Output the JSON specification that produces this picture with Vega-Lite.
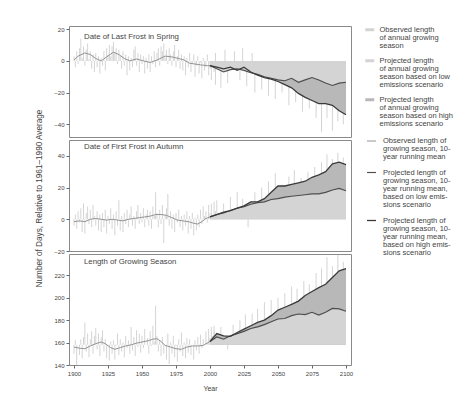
{
"$schema":"https://vega.github.io/schema/vega-lite/v6.json",
"padding":{"left":34,"top":25,"right":2,"bottom":2},
"background":"white",
"config":{
 "font":"Liberation Sans",
 "view":{"stroke":"#8a8a8a","strokeWidth":1},
 "axis":{"labelFontSize":6,"titleFontSize":7,"labelColor":"#444","titleColor":"#444","tickColor":"#666","tickSize":3,"labelPadding":2,"labelFlush":false,"domain":false,"grid":false,"labelFont":"Liberation Sans","titleFont":"Liberation Sans","titleFontWeight":"normal"},
 "legend":{"labelFont":"Liberation Sans","labelFontSize":7.5,"labelColor":"#444","rowPadding":6,"offset":12,"labelOffset":6},
 "title":{"anchor":"start","frame":"group","dx":15,"fontSize":7.8,"fontWeight":"normal","color":"#444","font":"Liberation Sans"}
},
"datasets":{
"ann":[
{"p":1,"yr":1900,"v":3},{"p":1,"yr":1901,"v":-4},{"p":1,"yr":1902,"v":6},{"p":1,"yr":1903,"v":-2},{"p":1,"yr":1904,"v":8},{"p":1,"yr":1905,"v":14},{"p":1,"yr":1906,"v":2},{"p":1,"yr":1907,"v":9},{"p":1,"yr":1908,"v":-3},{"p":1,"yr":1909,"v":7},
{"p":1,"yr":1910,"v":11},{"p":1,"yr":1911,"v":1},{"p":1,"yr":1912,"v":6},{"p":1,"yr":1913,"v":-5},{"p":1,"yr":1914,"v":4},{"p":1,"yr":1915,"v":-7},{"p":1,"yr":1916,"v":5},{"p":1,"yr":1917,"v":-4},{"p":1,"yr":1918,"v":3},{"p":1,"yr":1919,"v":-8},
{"p":1,"yr":1920,"v":2},{"p":1,"yr":1921,"v":-3},{"p":1,"yr":1922,"v":6},{"p":1,"yr":1923,"v":-6},{"p":1,"yr":1924,"v":8},{"p":1,"yr":1925,"v":4},{"p":1,"yr":1926,"v":10},{"p":1,"yr":1927,"v":3},{"p":1,"yr":1928,"v":9},{"p":1,"yr":1929,"v":12},
{"p":1,"yr":1930,"v":5},{"p":1,"yr":1931,"v":8},{"p":1,"yr":1932,"v":-2},{"p":1,"yr":1933,"v":7},{"p":1,"yr":1934,"v":3},{"p":1,"yr":1935,"v":-5},{"p":1,"yr":1936,"v":6},{"p":1,"yr":1937,"v":-3},{"p":1,"yr":1938,"v":4},{"p":1,"yr":1939,"v":-9},
{"p":1,"yr":1940,"v":3},{"p":1,"yr":1941,"v":-6},{"p":1,"yr":1942,"v":2},{"p":1,"yr":1943,"v":-4},{"p":1,"yr":1944,"v":7},{"p":1,"yr":1945,"v":9},{"p":1,"yr":1946,"v":-3},{"p":1,"yr":1947,"v":5},{"p":1,"yr":1948,"v":-7},{"p":1,"yr":1949,"v":4},
{"p":1,"yr":1950,"v":-2},{"p":1,"yr":1951,"v":3},{"p":1,"yr":1952,"v":-8},{"p":1,"yr":1953,"v":2},{"p":1,"yr":1954,"v":-5},{"p":1,"yr":1955,"v":4},{"p":1,"yr":1956,"v":-7},{"p":1,"yr":1957,"v":3},{"p":1,"yr":1958,"v":-2},{"p":1,"yr":1959,"v":6},
{"p":1,"yr":1960,"v":-4},{"p":1,"yr":1961,"v":5},{"p":1,"yr":1962,"v":8},{"p":1,"yr":1963,"v":-3},{"p":1,"yr":1964,"v":9},{"p":1,"yr":1965,"v":6},{"p":1,"yr":1966,"v":11},{"p":1,"yr":1967,"v":2},{"p":1,"yr":1968,"v":7},{"p":1,"yr":1969,"v":-2},
{"p":1,"yr":1970,"v":8},{"p":1,"yr":1971,"v":4},{"p":1,"yr":1972,"v":-3},{"p":1,"yr":1973,"v":6},{"p":1,"yr":1974,"v":10},{"p":1,"yr":1975,"v":-4},{"p":1,"yr":1976,"v":3},{"p":1,"yr":1977,"v":7},{"p":1,"yr":1978,"v":-5},{"p":1,"yr":1979,"v":4},
{"p":1,"yr":1980,"v":-6},{"p":1,"yr":1981,"v":3},{"p":1,"yr":1982,"v":-9},{"p":1,"yr":1983,"v":2},{"p":1,"yr":1984,"v":-4},{"p":1,"yr":1985,"v":5},{"p":1,"yr":1986,"v":-7},{"p":1,"yr":1987,"v":-2},{"p":1,"yr":1988,"v":4},{"p":1,"yr":1989,"v":-10},
{"p":1,"yr":1990,"v":-3},{"p":1,"yr":1991,"v":3},{"p":1,"yr":1992,"v":-8},{"p":1,"yr":1993,"v":-1},{"p":1,"yr":1994,"v":-11},{"p":1,"yr":1995,"v":2},{"p":1,"yr":1996,"v":-6},{"p":1,"yr":1997,"v":-4},{"p":1,"yr":1998,"v":4},{"p":1,"yr":1999,"v":-9},
{"p":1,"yr":2000,"v":-5},{"p":1,"yr":2001,"v":-12},{"p":1,"yr":2002,"v":0},{"p":1,"yr":2003,"v":-7},{"p":1,"yr":2004,"v":-15},
{"p":2,"yr":1900,"v":-4},{"p":2,"yr":1901,"v":3},{"p":2,"yr":1902,"v":-6},{"p":2,"yr":1903,"v":5},{"p":2,"yr":1904,"v":-2},{"p":2,"yr":1905,"v":7},{"p":2,"yr":1906,"v":-8},{"p":2,"yr":1907,"v":10},{"p":2,"yr":1908,"v":-9},{"p":2,"yr":1909,"v":4},
{"p":2,"yr":1910,"v":8},{"p":2,"yr":1911,"v":-3},{"p":2,"yr":1912,"v":6},{"p":2,"yr":1913,"v":-5},{"p":2,"yr":1914,"v":9},{"p":2,"yr":1915,"v":2},{"p":2,"yr":1916,"v":-4},{"p":2,"yr":1917,"v":5},{"p":2,"yr":1918,"v":-7},{"p":2,"yr":1919,"v":3},
{"p":2,"yr":1920,"v":-8},{"p":2,"yr":1921,"v":4},{"p":2,"yr":1922,"v":-5},{"p":2,"yr":1923,"v":6},{"p":2,"yr":1924,"v":-9},{"p":2,"yr":1925,"v":2},{"p":2,"yr":1926,"v":-3},{"p":2,"yr":1927,"v":7},{"p":2,"yr":1928,"v":-6},{"p":2,"yr":1929,"v":3},
{"p":2,"yr":1930,"v":-10},{"p":2,"yr":1931,"v":5},{"p":2,"yr":1932,"v":-4},{"p":2,"yr":1933,"v":12},{"p":2,"yr":1934,"v":-7},{"p":2,"yr":1935,"v":2},{"p":2,"yr":1936,"v":-8},{"p":2,"yr":1937,"v":4},{"p":2,"yr":1938,"v":-3},{"p":2,"yr":1939,"v":6},
{"p":2,"yr":1940,"v":-5},{"p":2,"yr":1941,"v":3},{"p":2,"yr":1942,"v":8},{"p":2,"yr":1943,"v":-4},{"p":2,"yr":1944,"v":2},{"p":2,"yr":1945,"v":-6},{"p":2,"yr":1946,"v":5},{"p":2,"yr":1947,"v":9},{"p":2,"yr":1948,"v":-3},{"p":2,"yr":1949,"v":4},
{"p":2,"yr":1950,"v":-2},{"p":2,"yr":1951,"v":7},{"p":2,"yr":1952,"v":-5},{"p":2,"yr":1953,"v":3},{"p":2,"yr":1954,"v":6},{"p":2,"yr":1955,"v":-4},{"p":2,"yr":1956,"v":5},{"p":2,"yr":1957,"v":-6},{"p":2,"yr":1958,"v":8},{"p":2,"yr":1959,"v":2},
{"p":2,"yr":1960,"v":17},{"p":2,"yr":1961,"v":4},{"p":2,"yr":1962,"v":-5},{"p":2,"yr":1963,"v":6},{"p":2,"yr":1964,"v":-3},{"p":2,"yr":1965,"v":9},{"p":2,"yr":1966,"v":-15},{"p":2,"yr":1967,"v":3},{"p":2,"yr":1968,"v":7},{"p":2,"yr":1969,"v":16},
{"p":2,"yr":1970,"v":-4},{"p":2,"yr":1971,"v":5},{"p":2,"yr":1972,"v":-6},{"p":2,"yr":1973,"v":3},{"p":2,"yr":1974,"v":-8},{"p":2,"yr":1975,"v":4},{"p":2,"yr":1976,"v":-2},{"p":2,"yr":1977,"v":6},{"p":2,"yr":1978,"v":-5},{"p":2,"yr":1979,"v":2},
{"p":2,"yr":1980,"v":-7},{"p":2,"yr":1981,"v":3},{"p":2,"yr":1982,"v":-4},{"p":2,"yr":1983,"v":5},{"p":2,"yr":1984,"v":-9},{"p":2,"yr":1985,"v":2},{"p":2,"yr":1986,"v":-6},{"p":2,"yr":1987,"v":4},{"p":2,"yr":1988,"v":-10},{"p":2,"yr":1989,"v":1},
{"p":2,"yr":1990,"v":-7},{"p":2,"yr":1991,"v":3},{"p":2,"yr":1992,"v":-5},{"p":2,"yr":1993,"v":6},{"p":2,"yr":1994,"v":-3},{"p":2,"yr":1995,"v":8},{"p":2,"yr":1996,"v":2},{"p":2,"yr":1997,"v":5},{"p":2,"yr":1998,"v":-2},{"p":2,"yr":1999,"v":9},
{"p":2,"yr":2000,"v":4},{"p":2,"yr":2001,"v":10},{"p":2,"yr":2002,"v":3},{"p":2,"yr":2003,"v":11},{"p":2,"yr":2004,"v":5},
{"p":3,"yr":1900,"v":150},{"p":3,"yr":1901,"v":162},{"p":3,"yr":1902,"v":140},{"p":3,"yr":1903,"v":158},{"p":3,"yr":1904,"v":149},{"p":3,"yr":1905,"v":163},{"p":3,"yr":1906,"v":146},{"p":3,"yr":1907,"v":165},{"p":3,"yr":1908,"v":178},{"p":3,"yr":1909,"v":152},
{"p":3,"yr":1910,"v":168},{"p":3,"yr":1911,"v":147},{"p":3,"yr":1912,"v":163},{"p":3,"yr":1913,"v":170},{"p":3,"yr":1914,"v":150},{"p":3,"yr":1915,"v":166},{"p":3,"yr":1916,"v":173},{"p":3,"yr":1917,"v":154},{"p":3,"yr":1918,"v":168},{"p":3,"yr":1919,"v":148},
{"p":3,"yr":1920,"v":165},{"p":3,"yr":1921,"v":171},{"p":3,"yr":1922,"v":152},{"p":3,"yr":1923,"v":163},{"p":3,"yr":1924,"v":146},{"p":3,"yr":1925,"v":158},{"p":3,"yr":1926,"v":144},{"p":3,"yr":1927,"v":161},{"p":3,"yr":1928,"v":150},{"p":3,"yr":1929,"v":162},
{"p":3,"yr":1930,"v":145},{"p":3,"yr":1931,"v":157},{"p":3,"yr":1932,"v":168},{"p":3,"yr":1933,"v":149},{"p":3,"yr":1934,"v":163},{"p":3,"yr":1935,"v":152},{"p":3,"yr":1936,"v":160},{"p":3,"yr":1937,"v":147},{"p":3,"yr":1938,"v":166},{"p":3,"yr":1939,"v":155},
{"p":3,"yr":1940,"v":162},{"p":3,"yr":1941,"v":150},{"p":3,"yr":1942,"v":174},{"p":3,"yr":1943,"v":153},{"p":3,"yr":1944,"v":165},{"p":3,"yr":1945,"v":148},{"p":3,"yr":1946,"v":171},{"p":3,"yr":1947,"v":156},{"p":3,"yr":1948,"v":168},{"p":3,"yr":1949,"v":151},
{"p":3,"yr":1950,"v":166},{"p":3,"yr":1951,"v":155},{"p":3,"yr":1952,"v":172},{"p":3,"yr":1953,"v":158},{"p":3,"yr":1954,"v":164},{"p":3,"yr":1955,"v":150},{"p":3,"yr":1956,"v":170},{"p":3,"yr":1957,"v":157},{"p":3,"yr":1958,"v":175},{"p":3,"yr":1959,"v":161},
{"p":3,"yr":1960,"v":193},{"p":3,"yr":1961,"v":166},{"p":3,"yr":1962,"v":152},{"p":3,"yr":1963,"v":162},{"p":3,"yr":1964,"v":148},{"p":3,"yr":1965,"v":165},{"p":3,"yr":1966,"v":150},{"p":3,"yr":1967,"v":158},{"p":3,"yr":1968,"v":145},{"p":3,"yr":1969,"v":168},
{"p":3,"yr":1970,"v":141},{"p":3,"yr":1971,"v":160},{"p":3,"yr":1972,"v":150},{"p":3,"yr":1973,"v":166},{"p":3,"yr":1974,"v":147},{"p":3,"yr":1975,"v":157},{"p":3,"yr":1976,"v":143},{"p":3,"yr":1977,"v":163},{"p":3,"yr":1978,"v":152},{"p":3,"yr":1979,"v":169},
{"p":3,"yr":1980,"v":148},{"p":3,"yr":1981,"v":160},{"p":3,"yr":1982,"v":146},{"p":3,"yr":1983,"v":164},{"p":3,"yr":1984,"v":151},{"p":3,"yr":1985,"v":163},{"p":3,"yr":1986,"v":149},{"p":3,"yr":1987,"v":158},{"p":3,"yr":1988,"v":145},{"p":3,"yr":1989,"v":162},
{"p":3,"yr":1990,"v":153},{"p":3,"yr":1991,"v":165},{"p":3,"yr":1992,"v":150},{"p":3,"yr":1993,"v":167},{"p":3,"yr":1994,"v":155},{"p":3,"yr":1995,"v":163},{"p":3,"yr":1996,"v":158},{"p":3,"yr":1997,"v":170},{"p":3,"yr":1998,"v":160},{"p":3,"yr":1999,"v":172},
{"p":3,"yr":2000,"v":164},{"p":3,"yr":2001,"v":174},{"p":3,"yr":2002,"v":166},{"p":3,"yr":2003,"v":170},{"p":3,"yr":2004,"v":162}
],
"pann":[
{"p":1,"yr":2004,"v":5},{"p":1,"yr":2008,"v":-17},{"p":1,"yr":2011,"v":7},{"p":1,"yr":2013,"v":-14},{"p":1,"yr":2018,"v":6},{"p":1,"yr":2022,"v":-12},{"p":1,"yr":2024,"v":8},{"p":1,"yr":2027,"v":-16},{"p":1,"yr":2031,"v":5},{"p":1,"yr":2033,"v":-20},{"p":1,"yr":2038,"v":-18},{"p":1,"yr":2043,"v":-22},{"p":1,"yr":2048,"v":-24},{"p":1,"yr":2053,"v":-20},{"p":1,"yr":2058,"v":-28},{"p":1,"yr":2063,"v":-26},{"p":1,"yr":2068,"v":-32},{"p":1,"yr":2073,"v":-30},{"p":1,"yr":2078,"v":-36},{"p":1,"yr":2082,"v":-45},{"p":1,"yr":2086,"v":-36},{"p":1,"yr":2090,"v":-44},{"p":1,"yr":2094,"v":-38},{"p":1,"yr":2098,"v":-40},
{"p":2,"yr":2005,"v":12},{"p":2,"yr":2010,"v":10},{"p":2,"yr":2015,"v":14},{"p":2,"yr":2020,"v":17},{"p":2,"yr":2024,"v":13},{"p":2,"yr":2028,"v":-5},{"p":2,"yr":2033,"v":17},{"p":2,"yr":2038,"v":20},{"p":2,"yr":2043,"v":24},{"p":2,"yr":2048,"v":29},{"p":2,"yr":2053,"v":22},{"p":2,"yr":2058,"v":27},{"p":2,"yr":2062,"v":31},{"p":2,"yr":2067,"v":26},{"p":2,"yr":2072,"v":30},{"p":2,"yr":2077,"v":33},{"p":2,"yr":2082,"v":36},{"p":2,"yr":2086,"v":41},{"p":2,"yr":2090,"v":38},{"p":2,"yr":2094,"v":42},{"p":2,"yr":2098,"v":39},
{"p":3,"yr":2003,"v":175},{"p":3,"yr":2008,"v":174},{"p":3,"yr":2013,"v":154},{"p":3,"yr":2017,"v":176},{"p":3,"yr":2022,"v":180},{"p":3,"yr":2026,"v":185},{"p":3,"yr":2031,"v":186},{"p":3,"yr":2035,"v":190},{"p":3,"yr":2040,"v":196},{"p":3,"yr":2045,"v":198},{"p":3,"yr":2050,"v":200},{"p":3,"yr":2055,"v":204},{"p":3,"yr":2060,"v":210},{"p":3,"yr":2064,"v":208},{"p":3,"yr":2069,"v":215},{"p":3,"yr":2073,"v":212},{"p":3,"yr":2078,"v":222},{"p":3,"yr":2082,"v":226},{"p":3,"yr":2086,"v":236},{"p":3,"yr":2090,"v":228},{"p":3,"yr":2094,"v":238},{"p":3,"yr":2098,"v":232}
],
"run":[
{"p":1,"s":"obs","yr":1900,"v":0.5},{"p":1,"s":"obs","yr":1903,"v":3},{"p":1,"s":"obs","yr":1908,"v":5},{"p":1,"s":"obs","yr":1912,"v":4},{"p":1,"s":"obs","yr":1916,"v":1.5},{"p":1,"s":"obs","yr":1920,"v":0},{"p":1,"s":"obs","yr":1924,"v":2.5},{"p":1,"s":"obs","yr":1929,"v":5.5},{"p":1,"s":"obs","yr":1933,"v":4},{"p":1,"s":"obs","yr":1937,"v":1.5},{"p":1,"s":"obs","yr":1941,"v":0},{"p":1,"s":"obs","yr":1946,"v":1.2},{"p":1,"s":"obs","yr":1951,"v":0},{"p":1,"s":"obs","yr":1956,"v":-1},{"p":1,"s":"obs","yr":1961,"v":0.5},{"p":1,"s":"obs","yr":1967,"v":3},{"p":1,"s":"obs","yr":1972,"v":2.5},{"p":1,"s":"obs","yr":1977,"v":1.5},{"p":1,"s":"obs","yr":1981,"v":0.5},{"p":1,"s":"obs","yr":1985,"v":-1.5},{"p":1,"s":"obs","yr":1989,"v":-2},{"p":1,"s":"obs","yr":1993,"v":-2.5},{"p":1,"s":"obs","yr":1998,"v":-3},{"p":1,"s":"obs","yr":2000,"v":-3},
{"p":1,"s":"low","yr":2000,"v":-3},{"p":1,"s":"low","yr":2005,"v":-5},{"p":1,"s":"low","yr":2010,"v":-7},{"p":1,"s":"low","yr":2015,"v":-5.5},{"p":1,"s":"low","yr":2020,"v":-5},{"p":1,"s":"low","yr":2025,"v":-6},{"p":1,"s":"low","yr":2030,"v":-7.5},{"p":1,"s":"low","yr":2035,"v":-8.5},{"p":1,"s":"low","yr":2040,"v":-10},{"p":1,"s":"low","yr":2045,"v":-11},{"p":1,"s":"low","yr":2050,"v":-12},{"p":1,"s":"low","yr":2055,"v":-12.5},{"p":1,"s":"low","yr":2060,"v":-11},{"p":1,"s":"low","yr":2065,"v":-13.5},{"p":1,"s":"low","yr":2070,"v":-12},{"p":1,"s":"low","yr":2075,"v":-10.5},{"p":1,"s":"low","yr":2080,"v":-12},{"p":1,"s":"low","yr":2085,"v":-14},{"p":1,"s":"low","yr":2090,"v":-15.5},{"p":1,"s":"low","yr":2095,"v":-14},{"p":1,"s":"low","yr":2100,"v":-13.5},
{"p":1,"s":"high","yr":2000,"v":-3},{"p":1,"s":"high","yr":2005,"v":-4},{"p":1,"s":"high","yr":2010,"v":-5},{"p":1,"s":"high","yr":2015,"v":-4},{"p":1,"s":"high","yr":2020,"v":-6},{"p":1,"s":"high","yr":2025,"v":-4},{"p":1,"s":"high","yr":2030,"v":-7},{"p":1,"s":"high","yr":2035,"v":-9},{"p":1,"s":"high","yr":2040,"v":-10.5},{"p":1,"s":"high","yr":2045,"v":-11.5},{"p":1,"s":"high","yr":2050,"v":-13},{"p":1,"s":"high","yr":2055,"v":-15},{"p":1,"s":"high","yr":2060,"v":-17},{"p":1,"s":"high","yr":2065,"v":-20.5},{"p":1,"s":"high","yr":2070,"v":-23},{"p":1,"s":"high","yr":2075,"v":-25},{"p":1,"s":"high","yr":2080,"v":-27},{"p":1,"s":"high","yr":2085,"v":-27},{"p":1,"s":"high","yr":2090,"v":-28},{"p":1,"s":"high","yr":2095,"v":-31.5},{"p":1,"s":"high","yr":2100,"v":-34},
{"p":2,"s":"obs","yr":1900,"v":-1.5},{"p":2,"s":"obs","yr":1904,"v":-1},{"p":2,"s":"obs","yr":1908,"v":-1.5},{"p":2,"s":"obs","yr":1912,"v":0},{"p":2,"s":"obs","yr":1916,"v":0.5},{"p":2,"s":"obs","yr":1920,"v":0},{"p":2,"s":"obs","yr":1924,"v":-0.5},{"p":2,"s":"obs","yr":1928,"v":0},{"p":2,"s":"obs","yr":1932,"v":-0.5},{"p":2,"s":"obs","yr":1936,"v":-1},{"p":2,"s":"obs","yr":1940,"v":0},{"p":2,"s":"obs","yr":1944,"v":0.5},{"p":2,"s":"obs","yr":1948,"v":1},{"p":2,"s":"obs","yr":1952,"v":1.5},{"p":2,"s":"obs","yr":1956,"v":2},{"p":2,"s":"obs","yr":1960,"v":3},{"p":2,"s":"obs","yr":1964,"v":3},{"p":2,"s":"obs","yr":1968,"v":2.5},{"p":2,"s":"obs","yr":1972,"v":1},{"p":2,"s":"obs","yr":1976,"v":-0.5},{"p":2,"s":"obs","yr":1980,"v":-1},{"p":2,"s":"obs","yr":1984,"v":-1.5},{"p":2,"s":"obs","yr":1988,"v":-2.5},{"p":2,"s":"obs","yr":1991,"v":-3},{"p":2,"s":"obs","yr":1994,"v":-1.5},{"p":2,"s":"obs","yr":1997,"v":0.5},{"p":2,"s":"obs","yr":2000,"v":1.5},
{"p":2,"s":"low","yr":2000,"v":1.5},{"p":2,"s":"low","yr":2005,"v":3},{"p":2,"s":"low","yr":2010,"v":4},{"p":2,"s":"low","yr":2015,"v":5.5},{"p":2,"s":"low","yr":2020,"v":7},{"p":2,"s":"low","yr":2025,"v":8},{"p":2,"s":"low","yr":2030,"v":9.5},{"p":2,"s":"low","yr":2035,"v":10.5},{"p":2,"s":"low","yr":2040,"v":11},{"p":2,"s":"low","yr":2045,"v":12.5},{"p":2,"s":"low","yr":2050,"v":13},{"p":2,"s":"low","yr":2055,"v":14},{"p":2,"s":"low","yr":2060,"v":14.5},{"p":2,"s":"low","yr":2065,"v":15},{"p":2,"s":"low","yr":2070,"v":15.5},{"p":2,"s":"low","yr":2075,"v":16},{"p":2,"s":"low","yr":2080,"v":16},{"p":2,"s":"low","yr":2085,"v":17},{"p":2,"s":"low","yr":2090,"v":18.5},{"p":2,"s":"low","yr":2095,"v":19.5},{"p":2,"s":"low","yr":2100,"v":18},
{"p":2,"s":"high","yr":2000,"v":1.5},{"p":2,"s":"high","yr":2005,"v":3},{"p":2,"s":"high","yr":2010,"v":4.5},{"p":2,"s":"high","yr":2015,"v":5.5},{"p":2,"s":"high","yr":2020,"v":7},{"p":2,"s":"high","yr":2025,"v":8.5},{"p":2,"s":"high","yr":2030,"v":11},{"p":2,"s":"high","yr":2035,"v":11},{"p":2,"s":"high","yr":2040,"v":13},{"p":2,"s":"high","yr":2045,"v":17},{"p":2,"s":"high","yr":2050,"v":21},{"p":2,"s":"high","yr":2055,"v":21},{"p":2,"s":"high","yr":2060,"v":22},{"p":2,"s":"high","yr":2065,"v":23},{"p":2,"s":"high","yr":2070,"v":24},{"p":2,"s":"high","yr":2075,"v":26.5},{"p":2,"s":"high","yr":2080,"v":28},{"p":2,"s":"high","yr":2085,"v":30},{"p":2,"s":"high","yr":2090,"v":35},{"p":2,"s":"high","yr":2095,"v":36},{"p":2,"s":"high","yr":2100,"v":34.5},
{"p":3,"s":"obs","yr":1900,"v":156},{"p":3,"s":"obs","yr":1904,"v":155},{"p":3,"s":"obs","yr":1908,"v":154.5},{"p":3,"s":"obs","yr":1912,"v":157},{"p":3,"s":"obs","yr":1916,"v":159},{"p":3,"s":"obs","yr":1920,"v":160.5},{"p":3,"s":"obs","yr":1923,"v":159},{"p":3,"s":"obs","yr":1927,"v":155.5},{"p":3,"s":"obs","yr":1930,"v":154},{"p":3,"s":"obs","yr":1934,"v":155.5},{"p":3,"s":"obs","yr":1938,"v":157},{"p":3,"s":"obs","yr":1942,"v":158},{"p":3,"s":"obs","yr":1946,"v":159.5},{"p":3,"s":"obs","yr":1950,"v":160.5},{"p":3,"s":"obs","yr":1954,"v":161.5},{"p":3,"s":"obs","yr":1958,"v":163},{"p":3,"s":"obs","yr":1961,"v":163.5},{"p":3,"s":"obs","yr":1964,"v":161},{"p":3,"s":"obs","yr":1967,"v":157.5},{"p":3,"s":"obs","yr":1971,"v":156},{"p":3,"s":"obs","yr":1975,"v":154.5},{"p":3,"s":"obs","yr":1979,"v":154},{"p":3,"s":"obs","yr":1983,"v":156},{"p":3,"s":"obs","yr":1987,"v":157},{"p":3,"s":"obs","yr":1991,"v":157},{"p":3,"s":"obs","yr":1995,"v":157.5},{"p":3,"s":"obs","yr":2000,"v":161},
{"p":3,"s":"low","yr":2000,"v":161},{"p":3,"s":"low","yr":2005,"v":165},{"p":3,"s":"low","yr":2010,"v":163},{"p":3,"s":"low","yr":2015,"v":166},{"p":3,"s":"low","yr":2020,"v":168},{"p":3,"s":"low","yr":2025,"v":170},{"p":3,"s":"low","yr":2030,"v":172.5},{"p":3,"s":"low","yr":2035,"v":174},{"p":3,"s":"low","yr":2040,"v":176},{"p":3,"s":"low","yr":2045,"v":178.5},{"p":3,"s":"low","yr":2050,"v":181},{"p":3,"s":"low","yr":2055,"v":181.5},{"p":3,"s":"low","yr":2060,"v":184},{"p":3,"s":"low","yr":2065,"v":185.5},{"p":3,"s":"low","yr":2070,"v":185},{"p":3,"s":"low","yr":2075,"v":187},{"p":3,"s":"low","yr":2080,"v":184.5},{"p":3,"s":"low","yr":2085,"v":187},{"p":3,"s":"low","yr":2090,"v":190.5},{"p":3,"s":"low","yr":2095,"v":190},{"p":3,"s":"low","yr":2100,"v":188},
{"p":3,"s":"high","yr":2000,"v":161},{"p":3,"s":"high","yr":2005,"v":168},{"p":3,"s":"high","yr":2010,"v":166},{"p":3,"s":"high","yr":2015,"v":165.5},{"p":3,"s":"high","yr":2020,"v":169},{"p":3,"s":"high","yr":2025,"v":172},{"p":3,"s":"high","yr":2030,"v":175},{"p":3,"s":"high","yr":2035,"v":178},{"p":3,"s":"high","yr":2040,"v":180},{"p":3,"s":"high","yr":2045,"v":184},{"p":3,"s":"high","yr":2050,"v":189},{"p":3,"s":"high","yr":2055,"v":191.5},{"p":3,"s":"high","yr":2060,"v":194},{"p":3,"s":"high","yr":2065,"v":197},{"p":3,"s":"high","yr":2070,"v":202},{"p":3,"s":"high","yr":2075,"v":205.5},{"p":3,"s":"high","yr":2080,"v":209},{"p":3,"s":"high","yr":2085,"v":212},{"p":3,"s":"high","yr":2090,"v":218},{"p":3,"s":"high","yr":2095,"v":224},{"p":3,"s":"high","yr":2100,"v":226}
]
},
"spacing":3,
"bounds":"flush",
"resolve":{"scale":{"fill":"shared","stroke":"shared","strokeWidth":"shared"},"legend":{"fill":"shared","stroke":"shared"}},
"vconcat":[
{"width":282,"height":111,
 "title":{"text":"Date of Last Frost in Spring","offset":-15},
 "encoding":{"x":{"field":"yr","type":"quantitative","scale":{"domain":[1900,2100],"nice":false,"zero":false},"axis":null},
  "y":{"field":"v","type":"quantitative","scale":{"domain":[-48,22],"nice":false,"zero":false},"axis":{"title":"Number of Days, Relative to 1961–1990 Average","titleY":172,"titlePadding":10,"titleFontSize":8.2,"values":[-40,-20,0,20]}}},
 "layer":[
  {"data":{"name":"pann"},"transform":[{"filter":"datum.p==1"}],"mark":{"type":"bar","width":1},"encoding":{"y2":{"datum":0},"fill":{"datum":"a_low","scale":{"domain":["a_obs","a_low","a_high"],"range":["#d4d4d4","#d4d4d4","#b8b8b8"]},"legend":{"title":null,"symbolType":"M-1.5,-0.5L1.5,-0.5L1.5,0.5L-1.5,0.5Z","symbolSize":36,"symbolStrokeWidth":0,"labelExpr":"datum.label=='a_obs' ? ['Observed length','of annual growing','season'] : datum.label=='a_low' ? ['Projected length','of annual growing','season based on low','emissions scenario'] : ['Projected length','of annual growing','season based on high','emissions scenario']","encode":{"labels":{"update":{"lineHeight":{"value":8.1}}}}}}}},
  {"data":{"name":"run"},"transform":[{"filter":"datum.p==1 && datum.s=='high'"}],"mark":{"type":"area"},"encoding":{"y2":{"datum":0},"fill":{"datum":"a_high"}}},
  {"data":{"name":"run"},"transform":[{"filter":"datum.p==1 && datum.s=='low'"}],"mark":{"type":"area"},"encoding":{"y2":{"datum":0},"fill":{"datum":"a_low"}}},
  {"data":{"name":"ann"},"transform":[{"filter":"datum.p==1"}],"mark":{"type":"bar","width":1},"encoding":{"y2":{"datum":0},"fill":{"datum":"a_obs"}}},
  {"data":{"name":"run"},"transform":[{"filter":"datum.p==1"}],"mark":{"type":"line"},"encoding":{
    "stroke":{"field":"s","type":"nominal","scale":{"domain":["obs","low","high"],"range":["#939393","#4d4d4d","#3a3a3a"]},"legend":{"title":null,"symbolType":"M-1,0L1,0","symbolSize":81,"labelExpr":"datum.label=='obs' ? ['Observed length of','growing season, 10-','year running mean'] : datum.label=='low' ? ['Projected length of','growing season, 10-','year running mean,','based on low emis-','sions scenario'] : ['Projected length of','growing season, 10-','year running mean,','based on high emis-','sions scenario']","encode":{"labels":{"update":{"lineHeight":{"value":8.1}}},"symbols":{"update":{"strokeWidth":{"signal":"datum.value=='high' ? 2.2 : datum.value=='low' ? 1.5 : 1"}}}}}},
    "strokeWidth":{"field":"s","type":"nominal","scale":{"domain":["obs","low","high"],"range":[1,1.3,1.7]},"legend":null}}}
 ]},
{"width":282,"height":111,
 "title":{"text":"Date of First Frost in Autumn","offset":-11},
 "encoding":{"x":{"field":"yr","type":"quantitative","scale":{"domain":[1900,2100],"nice":false,"zero":false},"axis":null},
  "y":{"field":"v","type":"quantitative","scale":{"domain":[-20,50],"nice":false,"zero":false},"axis":{"title":null,"values":[-20,0,20,40]}}},
 "layer":[
  {"data":{"name":"pann"},"transform":[{"filter":"datum.p==2"}],"mark":{"type":"bar","width":1},"encoding":{"y2":{"datum":0},"fill":{"datum":"a_low"}}},
  {"data":{"name":"run"},"transform":[{"filter":"datum.p==2 && datum.s=='high'"}],"mark":{"type":"area"},"encoding":{"y2":{"datum":0},"fill":{"datum":"a_high"}}},
  {"data":{"name":"run"},"transform":[{"filter":"datum.p==2 && datum.s=='low'"}],"mark":{"type":"area"},"encoding":{"y2":{"datum":0},"fill":{"datum":"a_low"}}},
  {"data":{"name":"ann"},"transform":[{"filter":"datum.p==2"}],"mark":{"type":"bar","width":1},"encoding":{"y2":{"datum":0},"fill":{"datum":"a_obs"}}},
  {"data":{"name":"run"},"transform":[{"filter":"datum.p==2"}],"mark":{"type":"line"},"encoding":{"stroke":{"field":"s","type":"nominal"},"strokeWidth":{"field":"s","type":"nominal","legend":null}}}
 ]},
{"width":282,"height":111,
 "title":{"text":"Length of Growing Season","offset":-12},
 "encoding":{"x":{"field":"yr","type":"quantitative","scale":{"domain":[1900,2100],"nice":false,"zero":false},"axis":{"title":"Year","values":[1900,1925,1950,1975,2000,2025,2050,2075,2100],"format":"d","titlePadding":8}},
  "y":{"field":"v","type":"quantitative","scale":{"domain":[140,239],"nice":false,"zero":false},"axis":{"title":null,"values":[140,160,180,200,220]}}},
 "layer":[
  {"data":{"name":"pann"},"transform":[{"filter":"datum.p==3"}],"mark":{"type":"bar","width":1},"encoding":{"y2":{"datum":158},"fill":{"datum":"a_low"}}},
  {"data":{"name":"run"},"transform":[{"filter":"datum.p==3 && datum.s=='high'"}],"mark":{"type":"area"},"encoding":{"y2":{"datum":158},"fill":{"datum":"a_high"}}},
  {"data":{"name":"run"},"transform":[{"filter":"datum.p==3 && datum.s=='low'"}],"mark":{"type":"area"},"encoding":{"y2":{"datum":158},"fill":{"datum":"a_low"}}},
  {"data":{"name":"ann"},"transform":[{"filter":"datum.p==3"}],"mark":{"type":"bar","width":1},"encoding":{"y2":{"datum":158},"fill":{"datum":"a_obs"}}},
  {"data":{"name":"run"},"transform":[{"filter":"datum.p==3"}],"mark":{"type":"line"},"encoding":{"stroke":{"field":"s","type":"nominal"},"strokeWidth":{"field":"s","type":"nominal","legend":null}}}
 ]}
]
}
